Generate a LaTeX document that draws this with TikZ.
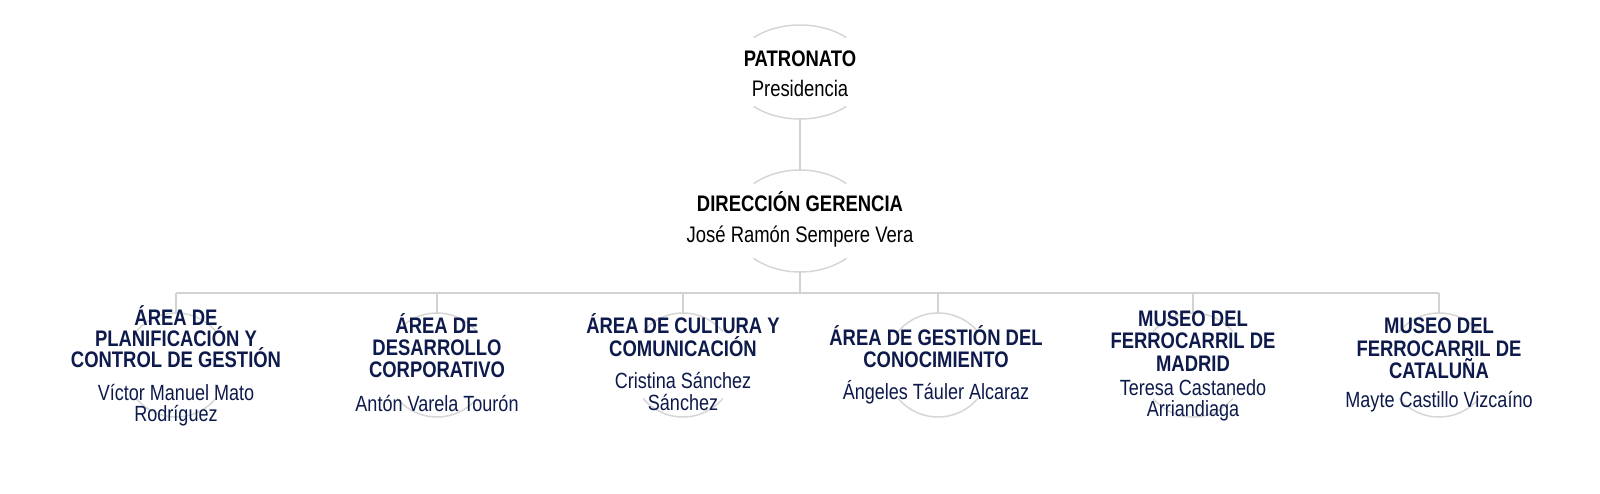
\documentclass[tikz,border=0pt]{standalone}
\usepackage{fontspec}
\setmainfont{Liberation Sans}[FakeStretch=0.82]
\usetikzlibrary{shapes.geometric}
\definecolor{navy}{HTML}{0D1A4B}
\definecolor{linegray}{HTML}{D2D2D2}
\definecolor{ringgray}{HTML}{D6D6D6}
\begin{document}
\begin{tikzpicture}[x=1pt,y=-1pt,
  cargo/.style={anchor=base,inner sep=0pt,font=\fontsize{22.5}{22}\selectfont\bfseries},
  persona/.style={anchor=base,inner sep=0pt,font=\fontsize{22}{22}\selectfont},
  ring/.style={draw=ringgray,line width=1.5pt},
  conector/.style={draw=linegray,line width=2pt},
  topring/.style={ellipse,inner sep=0pt,outer sep=0pt,minimum width=136pt},
  lowring/.style={circle,inner sep=0pt,outer sep=0pt,minimum size=104pt}]
\useasboundingbox (0,0) rectangle (1600,494);
\fill[white] (0,0) rectangle (1600,494);

% top-level rings (only top and bottom arcs visible)
\node[topring,minimum height=94pt] (p) at (800,72) {};
\node[topring,minimum height=102pt] (d) at (800,221) {};
\draw[ring] plot[domain=47:133,samples=40] ({800+68*cos(\x)},{72-47*sin(\x)});
\draw[ring] plot[domain=227:313,samples=40] ({800+68*cos(\x)},{72-47*sin(\x)});
\draw[ring] plot[domain=47:133,samples=40] ({800+68*cos(\x)},{221-51*sin(\x)});
\draw[ring] plot[domain=227:313,samples=40] ({800+68*cos(\x)},{221-51*sin(\x)});

% lower rings
\node[lowring] (c1) at (176,365) {};
\node[lowring] (c2) at (437,365) {};
\node[lowring] (c3) at (683,365) {};
\node[lowring] (c4) at (938,365) {};
\node[lowring] (c5) at (1193,365) {};
\node[lowring] (c6) at (1439,365) {};
\foreach \cx in {176,437,683,938,1193,1439} {
  \draw[ring] plot[domain=40:140,samples=40] ({\cx+52*cos(\x)},{365-52*sin(\x)});
  \draw[ring] plot[domain=220:320,samples=40] ({\cx+52*cos(\x)},{365-52*sin(\x)});
}

% connectors
\coordinate (bc) at (800,293);
\coordinate (b1) at (176,293);
\coordinate (b6) at (1439,293);
\draw[conector] (p.south) -- (d.north);
\draw[conector] (d.south) -- (bc);
\draw[conector] (b1) -- (b6);
\foreach \i in {1,...,6} {\draw[conector] (c\i.north |- bc) -- (c\i.north);}

% texts
\node[cargo] (pt) at (800,67) {PATRONATO};
\node[persona,font=\fontsize{22.5}{22}\selectfont] (pn) at (800,97) {Presidencia};
\node[cargo] (dt) at (800,212) {DIRECCIÓN GERENCIA};
\node[persona,font=\fontsize{22.5}{22}\selectfont] (dn) at (800,243) {José Ramón Sempere Vera};

\begin{scope}[every node/.append style={text=navy}]
\node[cargo] (t1a) at (176,325) {ÁREA DE};
\node[cargo] (t1b) at (176,346) {PLANIFICACIÓN Y};
\node[cargo] (t1c) at (176,367) {CONTROL DE GESTIÓN};
\node[persona] (n1a) at (176,400) {Víctor Manuel Mato};
\node[persona] (n1b) at (176,421) {Rodríguez};

\node[cargo] (t2a) at (437,333) {ÁREA DE};
\node[cargo] (t2b) at (437,355) {DESARROLLO};
\node[cargo] (t2c) at (437,377) {CORPORATIVO};
\node[persona] (n2a) at (437,411) {Antón Varela Tourón};

\node[cargo] (t3a) at (683,333) {ÁREA DE CULTURA Y};
\node[cargo] (t3b) at (683,356) {COMUNICACIÓN};
\node[persona] (n3a) at (683,388) {Cristina Sánchez};
\node[persona] (n3b) at (683,410) {Sánchez};

\node[cargo] (t4a) at (936,345) {ÁREA DE GESTIÓN DEL};
\node[cargo] (t4b) at (936,367) {CONOCIMIENTO};
\node[persona] (n4a) at (936,399) {Ángeles Táuler Alcaraz};

\node[cargo] (t5a) at (1193,326) {MUSEO DEL};
\node[cargo] (t5b) at (1193,348) {FERROCARRIL DE};
\node[cargo] (t5c) at (1193,371) {MADRID};
\node[persona] (n5a) at (1193,395) {Teresa Castanedo};
\node[persona] (n5b) at (1193,416) {Arriandiaga};

\node[cargo] (t6a) at (1439,333) {MUSEO DEL};
\node[cargo] (t6b) at (1439,356) {FERROCARRIL DE};
\node[cargo] (t6c) at (1439,378) {CATALUÑA};
\node[persona] (n6a) at (1439,407) {Mayte Castillo Vizcaíno};
\end{scope}
\end{tikzpicture}
\end{document}
